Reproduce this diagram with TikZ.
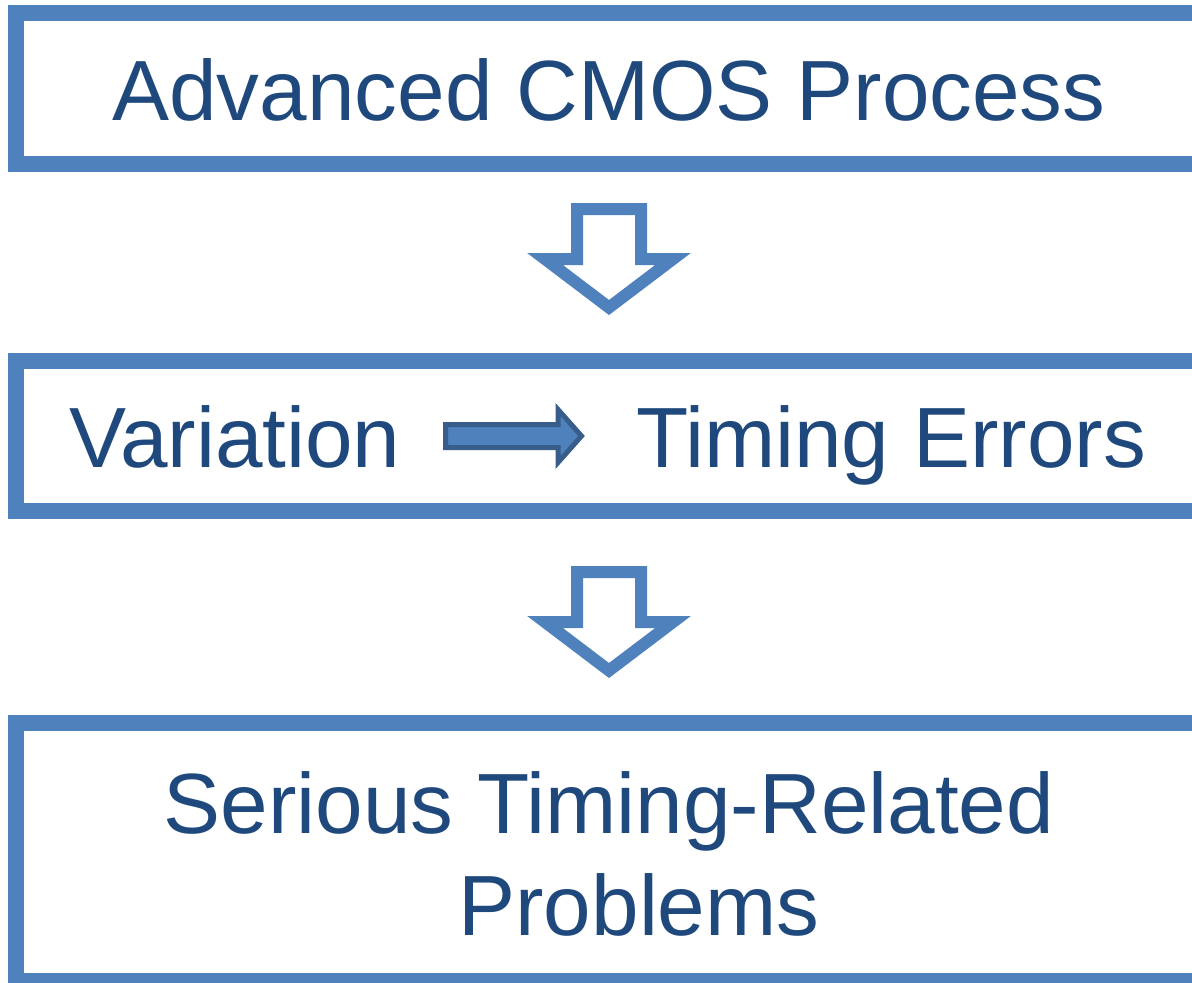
\documentclass[tikz,border=0pt]{standalone}
\usepackage{fontspec}
\setmainfont{Liberation Sans}
\usetikzlibrary{positioning,calc}
\definecolor{boxblue}{HTML}{4F81BD}
\definecolor{edgeblue}{HTML}{385D8A}
\definecolor{textblue}{HTML}{1F497D}

\begin{document}
\begin{tikzpicture}[x=1pt,y=-1pt,
    box/.style={draw=boxblue, line width=16pt, anchor=north west,
      minimum width=1230pt, inner sep=0pt, outer sep=0pt},
    txt/.style={text=textblue, inner sep=0pt, align=center,
      font=\fontsize{85.5}{102}\selectfont},
    hollowarrow/.style={draw=boxblue, fill=white, line width=12pt, miter limit=10},
    solidarrow/.style={draw=edgeblue, fill=boxblue, line width=5pt, miter limit=10}]
\useasboundingbox (0,0) rectangle (1192,983);
\clip (0,0) rectangle (1192,983);
\node[box, minimum height=151pt](procbox) at (16,13) {};
\node[box, minimum height=150pt](varbox) at (16,361) {};
\node[box, minimum height=258pt](probbox) at (16,723) {};
\node[txt, anchor=base](proc) at (609,120) {Advanced CMOS Process};
\node[txt, anchor=base](var) at (235,467.5) {Variation};
\node[txt, anchor=base](timing) at (891,467.5) {Timing Errors};
\node[txt, anchor=base](prob) at (609,935) {Serious Timing-Related\\\hspace*{60pt}Problems};
\foreach \b/\d in {procbox/45, varbox/61}
  \draw[hollowarrow] ($(\b.south -| proc.base)+(-32,\d)$) -- ++(64,0) -- ++(0,50)
    -- ++(32,0) -- ++(-64,48.5) -- ++(-64,-48.5) -- ++(32,0) -- cycle;
\coordinate (va) at ($(var.base)+(210.5,-31.5)$);
\draw[solidarrow] ($(va)+(0,-11.5)$) -- ++(112.5,0) -- ++(0,-15) -- ++(23.5,26.5)
  -- ++(-23.5,26.5) -- ++(0,-15) -- ++(-112.5,0) -- cycle;
\end{tikzpicture}
\end{document}
